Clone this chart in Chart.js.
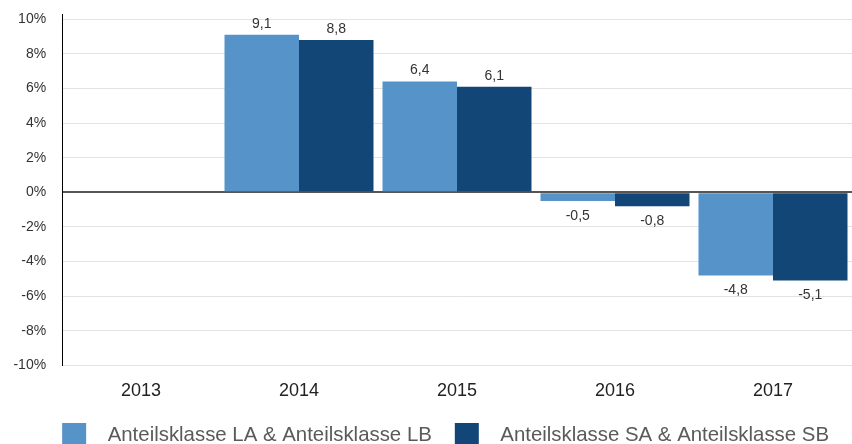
<!DOCTYPE html>
<html lang="de">
<head>
    <meta charset="UTF-8">
    <title>Wertentwicklung Anteilsklassen</title>
    <script src="https://cdn.jsdelivr.net/npm/chart.js"></script>
    <style>
        html, body { margin: 0; padding: 0; background: #fff; overflow: hidden; }
        #wrap { position: relative; width: 852px; height: 457px; }
    </style>
</head>
<body>
<div id="wrap"><canvas id="perfChart"></canvas></div>

<script>
    // Daten
    const jahre = ["2013", "2014", "2015", "2016", "2017"];
    const klasseLA = [null, 9.1, 6.4, -0.5, -4.8];
    const klasseSA = [null, 8.8, 6.1, -0.8, -5.1];
    const yTicks = [-10, -8, -6, -4, -2, 0, 2, 4, 6, 8, 10];
    const labelLA = "Anteilsklasse LA & Anteilsklasse LB";
    const labelSA = "Anteilsklasse SA & Anteilsklasse SB";

    const schrift = "'Liberation Sans', Arial, Helvetica, sans-serif";

    // Werte über/unter den Balken
    const wertLabels = {
        id: 'wertLabels',
        afterDatasetsDraw(chart) {
            const ctx = chart.ctx;
            ctx.save();
            ctx.font = "14px " + schrift;
            ctx.fillStyle = "#333";
            ctx.textAlign = "center";
            ctx.textBaseline = "middle";
            chart.data.datasets.forEach((ds, i) => {
                chart.getDatasetMeta(i).data.forEach((bar, j) => {
                    const v = ds.data[j];
                    if (v === null) return;
                    const txt = v.toFixed(1).replace('.', ',');
                    const y = v >= 0 ? bar.y - 11 : bar.y + 15;
                    ctx.fillText(txt, bar.x, y);
                });
            });
            ctx.restore();
        }
    };

    new Chart(document.getElementById("perfChart"), {
        type: 'bar',
        data: {
            labels: jahre,
            datasets: [
                // Leerzeichen: Abstand Kästchen-Text und zwischen den Einträgen
                { label: "  " + labelLA + "   ", data: klasseLA, backgroundColor: "#5593c9" },
                { label: "  " + labelSA + "   ", data: klasseSA, backgroundColor: "#124677" }
            ]
        },
        options: {
            responsive: true,
            maintainAspectRatio: false,
            animation: false,
            layout: { padding: { top: 14, right: 0, left: 0, bottom: 0 } },
            datasets: { bar: { categoryPercentage: 0.943, barPercentage: 1.0 } },
            plugins: {
                tooltip: { enabled: false },
                legend: {
                    position: 'bottom',
                    align: 'end',
                    labels: {
                        boxWidth: 24,
                        boxHeight: 24,
                        padding: 6,
                        color: "#5a5a5a",
                        font: { family: schrift, size: 20.4 }
                    }
                }
            },
            scales: {
                x: {
                    grid: { display: false, drawTicks: false },
                    border: { display: false },
                    ticks: { color: "#222", padding: 15, font: { family: schrift, size: 18 } }
                },
                y: {
                    min: -10,
                    max: 10.3,
                    afterFit(scale) { scale.width = 62; },
                    // nur die Prozentschritte behalten, Achse ragt etwas über 10% hinaus
                    afterBuildTicks(scale) {
                        scale.ticks = yTicks.map(v => ({ value: v }));
                    },
                    border: { display: true, color: "#000", width: 1 },
                    grid: {
                        drawTicks: false,
                        color: c => c.tick.value === 0 ? "#555" : "#e3e3e3",
                        lineWidth: c => c.tick.value === 0 ? 2 : 1
                    },
                    ticks: {
                        padding: 5,
                        color: "#333",
                        font: { family: schrift, size: 14 },
                        callback: v => v + "%\u2002 "
                    }
                }
            }
        },
        plugins: [wertLabels]
    });
</script>
</body>
</html>
